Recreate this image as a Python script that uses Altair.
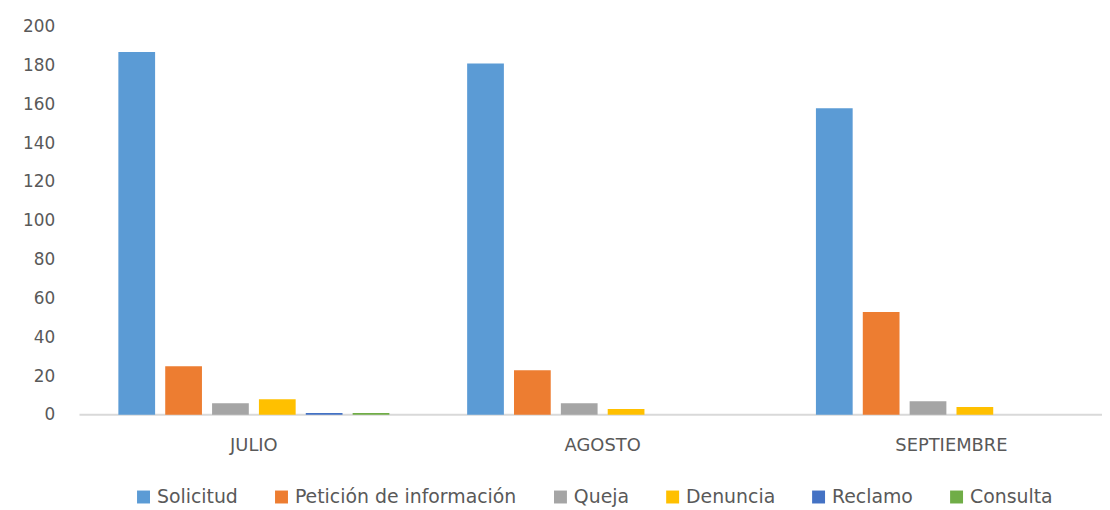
import altair as alt
import pandas as pd

months = ["JULIO", "AGOSTO", "SEPTIEMBRE"]
types = ["Solicitud", "Petición de información", "Queja", "Denuncia", "Reclamo", "Consulta"]
colors = ["#5B9BD5", "#ED7D31", "#A5A5A5", "#FFC000", "#4472C4", "#70AD47"]
solicitud = [187, 181, 158]
peticion = [25, 23, 53]
queja = [6, 6, 7]
denuncia = [8, 3, 4]
reclamo = [1, 0, 0]
consulta = [1, 0, 0]

series = [solicitud, peticion, queja, denuncia, reclamo, consulta]
rows = []
for t, vals in zip(types, series):
    for m, v in zip(months, vals):
        rows.append({"mes": m, "tipo": t, "valor": v})
df = pd.DataFrame(rows)

FONT = "DejaVu Sans"
GRAY = "#595959"

bars = alt.Chart(df).mark_bar().encode(
    x=alt.X("mes:N", sort=months, title=None,
            scale=alt.Scale(paddingInner=0, paddingOuter=0, range=[0, 1054]),
            axis=alt.Axis(labelAngle=0, ticks=False, domain=False, grid=False,
                          labelFont=FONT, labelFontSize=18, labelColor=GRAY,
                          labelPadding=22)),
    xOffset=alt.XOffset("tipo:N", sort=types,
                        scale=alt.Scale(paddingInner=0.216, paddingOuter=0.83)),
    y=alt.Y("valor:Q", title=None,
            scale=alt.Scale(domain=[0, 200]),
            axis=alt.Axis(values=list(range(0, 201, 20)), ticks=False, domain=False,
                          labelOverlap=False,
                          gridColor="#D9D9D9", gridWidth=1.5,
                          labelFont=FONT, labelFontSize=17, labelColor=GRAY,
                          labelPadding=25)),
    color=alt.Color("tipo:N", sort=types,
                    scale=alt.Scale(domain=types, range=colors),
                    legend=alt.Legend(orient="none", direction="horizontal", title=None,
                                      legendX=55, legendY=464,
                                      symbolType="square", symbolSize=170,
                                      symbolStrokeWidth=0, labelLimit=400,
                                      labelFont=FONT, labelFontSize=19, labelColor=GRAY,
                                      columnPadding=34, labelOffset=4)),
)

baseline = alt.Chart(pd.DataFrame({"y": [0]})).mark_rule(color="#D9D9D9", strokeWidth=2).encode(
    y=alt.Y("y:Q", axis=None), x=alt.value(0), x2=alt.value(1054)
)

final = alt.layer(baseline, bars).resolve_axis(y="independent").properties(
    width=1030, height=391,
    autosize=alt.AutoSizeParams(type="none"),
    padding={"left": 72, "top": 17, "right": 0, "bottom": 94},
).configure_view(stroke=None)

final.save("out.html", embed_options={"renderer": "svg", "actions": False})
